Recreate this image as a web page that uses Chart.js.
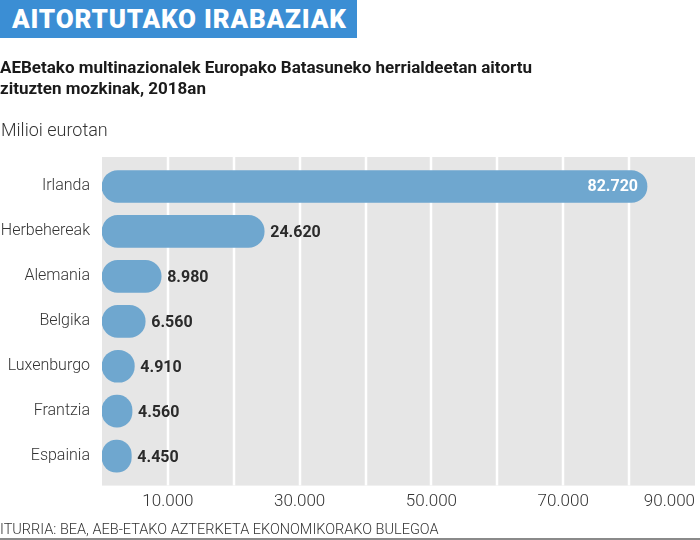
<!DOCTYPE html>
<html>
<head>
<meta charset="utf-8">
<script src="https://cdn.jsdelivr.net/npm/chart.js@4.4.1/dist/chart.umd.min.js"></script>
<style>
  html, body { margin: 0; padding: 0; background: #fff; }
  body { width: 700px; height: 540px; position: relative; overflow: hidden; font-family: Roboto, "Noto Sans", sans-serif; }
  #title { position: absolute; left: 0; top: 0; width: 357px; height: 38px; background: #3b8ed4; }
  #title span { position: absolute; left: 12px; top: 4px; color: #fff; font-family: Roboto, sans-serif; font-weight: 900; font-size: 26px; letter-spacing: 0.8px; line-height: 30px; white-space: nowrap; }
  #sub { position: absolute; left: 0; top: 57px; width: 545px; font-weight: 700; font-size: 17px; line-height: 21px; letter-spacing: 0px; color: #1a1a1a; }
  #unit { position: absolute; left: 1px; top: 119px; font-weight: 300; font-size: 18px; letter-spacing: 0px; color: #333; }
  #src { position: absolute; left: 0; top: 521px; font-weight: 300; font-size: 14.5px; letter-spacing: 0px; color: #333; white-space: nowrap; }
  #rule { position: absolute; left: 0; top: 538px; width: 700px; height: 2px; background: #8a8a8a; }
  #wrap { position: absolute; left: 0; top: 0; width: 700px; height: 540px; }
</style>
</head>
<body>
<div id="wrap"><canvas id="c" width="700" height="540"></canvas></div>
<div id="title"><span>AITORTUTAKO IRABAZIAK</span></div>
<div id="sub">AEBetako multinazionalek Europako Batasuneko herrialdeetan aitortu zituzten mozkinak, 2018an</div>
<div id="unit">Milioi eurotan</div>
<div id="src">ITURRIA: BEA, AEB-ETAKO AZTERKETA EKONOMIKORAKO BULEGOA</div>
<div id="rule"></div>
<script>
const categories = ["Irlanda", "Herbehereak", "Alemania", "Belgika", "Luxenburgo", "Frantzia", "Espainia"];
const values = [82720, 24620, 8980, 6560, 4910, 4560, 4450];
const tickValues = [0, 10000, 20000, 30000, 40000, 50000, 60000, 70000, 80000, 90000];
const tickLabels = ["", "10.000", "", "30.000", "", "50.000", "", "70.000", "", "90.000"];

const fmt = v => v.toLocaleString("de-DE");

const bgPlugin = {
  id: "bg",
  beforeDatasetsDraw(chart) {
    const { ctx, chartArea: a, scales: { x } } = chart;
    ctx.save();
    ctx.fillStyle = "#e6e6e6";
    ctx.fillRect(a.left, a.top - 7, a.right - a.left, a.bottom - a.top + 14);
    ctx.strokeStyle = "#ffffff";
    ctx.lineWidth = 2.5;
    tickValues.forEach(v => {
      if (v <= 0 || v >= 90000) return;
      const px = Math.round(x.getPixelForValue(v));
      ctx.beginPath();
      ctx.moveTo(px, a.top - 7);
      ctx.lineTo(px, a.bottom + 7);
      ctx.stroke();
    });
    ctx.restore();
  }
};

const labelPlugin = {
  id: "vals",
  afterDatasetsDraw(chart) {
    const { ctx } = chart;
    const meta = chart.getDatasetMeta(0);
    ctx.save();
    ctx.font = "700 16px Roboto, sans-serif";
    ctx.textBaseline = "middle";
    meta.data.forEach((bar, i) => {
      const txt = fmt(values[i]);
      if (i === 0) {
        ctx.fillStyle = "#ffffff";
        ctx.textAlign = "right";
        ctx.fillText(txt, bar.x - 9, bar.y + 1);
      } else {
        ctx.fillStyle = "#2a2a2a";
        ctx.textAlign = "left";
        ctx.fillText(txt, bar.x + 6, bar.y + 2);
      }
    });
    ctx.restore();
  }
};

new Chart(document.getElementById("c"), {
  type: "bar",
  data: {
    labels: categories,
    datasets: [{
      data: values,
      backgroundColor: "#6fa7cf",
      borderRadius: 16,
      borderSkipped: false,
      barThickness: 32
    }]
  },
  options: {
    indexAxis: "y",
    responsive: false,
    animation: false,
    layout: { padding: { top: 164, right: -12, bottom: 23, left: 0 } },
    plugins: { legend: { display: false }, tooltip: { enabled: false } },
    scales: {
      x: {
        min: 0,
        max: 90000,
        afterBuildTicks(scale) { scale.ticks = tickValues.map(v => ({ value: v })); },
        ticks: {
          autoSkip: false,
          maxRotation: 0,
          align: "inner",
          padding: 5,
          color: "#333",
          font: { family: "Roboto", size: 17, weight: 300 },
          callback: (v, i) => tickLabels[i]
        },
        grid: { display: false },
        border: { display: false }
      },
      y: {
        afterFit(scale) { scale.width = 102; },
        ticks: {
          padding: 4,
          color: "#333",
          font: { family: "Roboto", size: 16, weight: 300 }
        },
        grid: { display: false },
        border: { display: false }
      }
    }
  },
  plugins: [bgPlugin, labelPlugin]
});
</script>
</body>
</html>
